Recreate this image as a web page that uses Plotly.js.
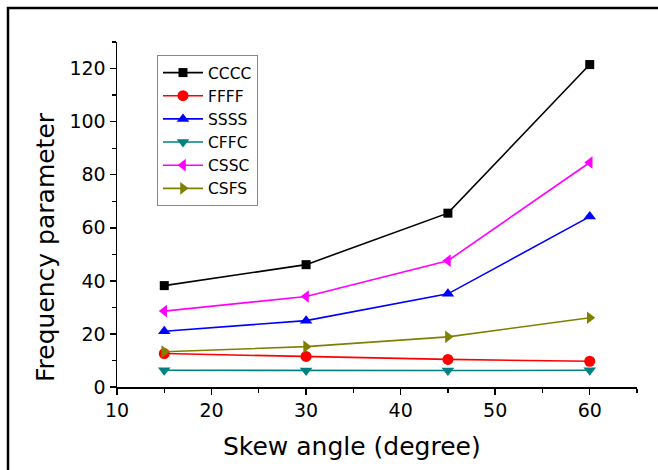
<!DOCTYPE html>
<html>
<head>
<meta charset="utf-8">
<script src="https://cdn.plot.ly/plotly-3.0.1.min.js"></script>
<style>html,body{margin:0;padding:0;background:#fff;}#chart{width:658px;height:470px;}</style>
</head>
<body>
<div id="chart"></div>
<script>
const skewAngles = [15, 30, 45, 60];
const seriesNames = ["CCCC", "FFFF", "SSSS", "CFFC", "CSSC", "CSFS"];
const cccc = [38.2, 46.1, 65.5, 121.5];
const ffff = [12.6, 11.5, 10.4, 9.7];
const ssss = [21.0, 25.0, 35.1, 64.2];
const cffc = [6.3, 6.2, 6.2, 6.3];
const cssc = [28.6, 34.1, 47.6, 84.6];
const csfs = [13.3, 15.2, 18.9, 26.1];
const xTitle = "Skew angle (degree)";
const yTitle = "Frequency parameter";

const seriesValues = [cccc, ffff, ssss, cffc, cssc, csfs];
const colors = ["#000000", "#ff0000", "#0000ff", "#008080", "#ff00ff", "#808000"];
const symbols = ["square", "circle", "triangle-up", "triangle-down", "triangle-left", "triangle-right"];
const sizes = [9, 11, 11, 11, 11, 11];

const traces = seriesNames.map((name, i) => ({
  x: skewAngles,
  y: seriesValues[i],
  name: name,
  type: "scatter",
  mode: "lines+markers",
  line: {color: colors[i], width: 1.6},
  marker: {color: colors[i], symbol: symbols[i], size: sizes[i]}
}));

const font = "DejaVu Sans, sans-serif";
const L = 117, R = 21, T = 42, B = 83;
const pw = 658 - L - R, ph = 470 - T - B;
const px = v => (v - L) / pw;
const py = v => (470 - B - v) / ph;

const layout = {
  width: 658, height: 470,
  margin: {l: L, r: R, t: T, b: B, pad: 0},
  paper_bgcolor: "#ffffff",
  plot_bgcolor: "#ffffff",
  font: {family: font, color: "#000"},
  showlegend: true,
  legend: {
    x: px(157), y: py(55), xanchor: "left", yanchor: "top",
    bgcolor: "#ffffff", bordercolor: "#888888", borderwidth: 1,
    font: {family: font, size: 15.5, color: "#000"},
    tracegroupgap: 0, itemwidth: 40
  },
  xaxis: {
    range: [10, 65], dtick: 10, tick0: 10,
    showgrid: false, zeroline: false,
    showline: true, linecolor: "#000", linewidth: 1.5,
    ticks: "outside", ticklen: 6, tickwidth: 1.5, tickcolor: "#000",
    minor: {dtick: 5, ticks: "outside", ticklen: 4, tickwidth: 1.2, tickcolor: "#000", showgrid: false},
    tickfont: {family: font, size: 19, color: "#000"},
    automargin: false
  },
  yaxis: {
    range: [0, 130], dtick: 20, tick0: 0,
    showgrid: false, zeroline: false,
    showline: true, linecolor: "#000", linewidth: 1.5,
    ticks: "outside", ticklen: 6, tickwidth: 1.5, tickcolor: "#000",
    minor: {dtick: 10, ticks: "outside", ticklen: 4, tickwidth: 1.2, tickcolor: "#000", showgrid: false},
    tickfont: {family: font, size: 19, color: "#000"},
    automargin: false
  },
  annotations: [
    {text: xTitle, xref: "paper", yref: "paper", x: px(352), y: py(447),
     xanchor: "center", yanchor: "middle", showarrow: false,
     font: {family: font, size: 25, color: "#000"}},
    {text: yTitle, xref: "paper", yref: "paper", x: px(45), y: py(247),
     xanchor: "center", yanchor: "middle", showarrow: false, textangle: -90,
     font: {family: font, size: 25, color: "#000"}}
  ],
  shapes: [{
    type: "rect", xref: "paper", yref: "paper",
    x0: px(8), x1: px(720), y0: py(8), y1: py(520),
    line: {color: "#000", width: 2.5}, fillcolor: "rgba(0,0,0,0)", layer: "above"
  }]
};

Plotly.newPlot("chart", traces, layout, {displayModeBar: false, staticPlot: true});
</script>
</body>
</html>
